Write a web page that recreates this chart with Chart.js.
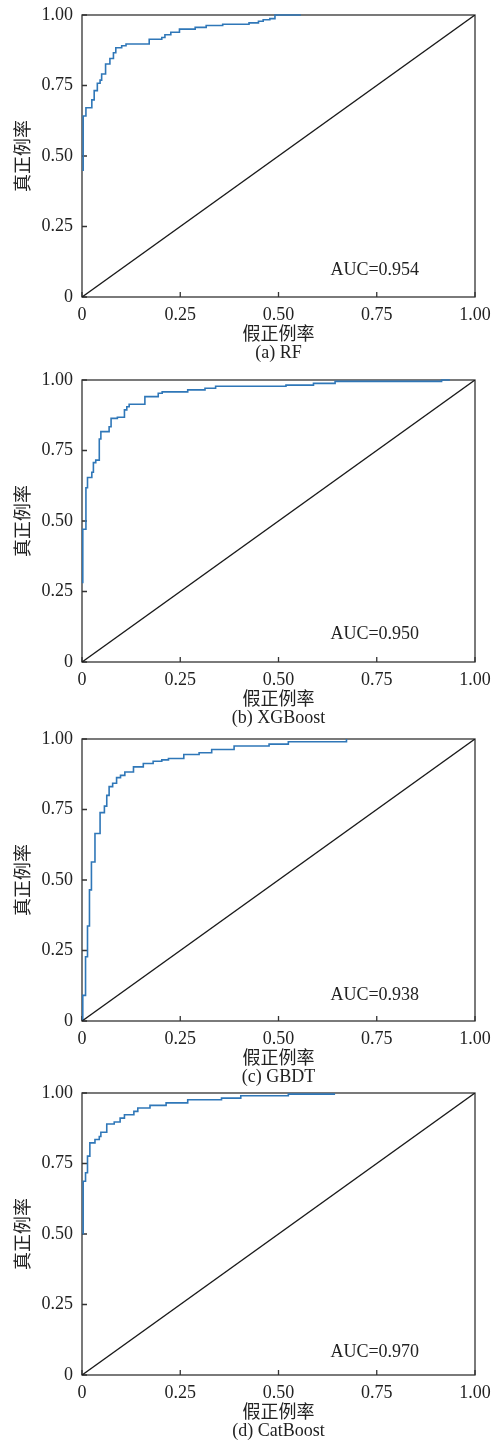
<!DOCTYPE html>
<html>
<head>
<meta charset="utf-8">
<script src="https://cdn.jsdelivr.net/npm/chart.js@4.4.1/dist/chart.umd.min.js"></script>
<style>
  body { margin: 0; background: #fff; }
  #page { position: relative; width: 500px; height: 1444px; }
  .panel { position: absolute; left: 0; width: 500px; height: 360px; }
</style>
</head>
<body>
<div id="page">
  <div class="panel" style="top: 7px"><canvas id="c0" width="500" height="360"></canvas></div>
  <div class="panel" style="top: 372px"><canvas id="c1" width="500" height="360"></canvas></div>
  <div class="panel" style="top: 731px"><canvas id="c2" width="500" height="360"></canvas></div>
  <div class="panel" style="top: 1085px"><canvas id="c3" width="500" height="360"></canvas></div>
</div>
<script>
const tickValues = [0, 0.25, 0.5, 0.75, 1];
const tickLabels = ["0", "0.25", "0.50", "0.75", "1.00"];
const diagonal = [0, 1];

const models = ["RF", "XGBoost", "GBDT", "CatBoost"];
const captions = ["(a) RF", "(b) XGBoost", "(c) GBDT", "(d) CatBoost"];
const aucValues = ["0.954", "0.950", "0.938", "0.970"];
const aucHeights = [0.096, 0.099, 0.091, 0.082];

// ROC points; each one is where the step rises
const rfFpr = [0.003, 0.003, 0.01, 0.025, 0.031, 0.039, 0.046, 0.05, 0.06, 0.071, 0.08, 0.086, 0.101, 0.112, 0.171, 0.203, 0.211, 0.226, 0.248, 0.288, 0.316, 0.358, 0.425, 0.449, 0.461, 0.478, 0.491, 0.557];
const rfTpr = [0.447, 0.642, 0.671, 0.699, 0.732, 0.758, 0.769, 0.791, 0.826, 0.846, 0.866, 0.884, 0.891, 0.897, 0.914, 0.92, 0.93, 0.939, 0.95, 0.956, 0.963, 0.967, 0.972, 0.978, 0.983, 0.987, 1.0, 1.0];

const xgbFpr = [0.002, 0.002, 0.01, 0.014, 0.025, 0.029, 0.035, 0.044, 0.048, 0.069, 0.074, 0.09, 0.108, 0.114, 0.12, 0.16, 0.194, 0.204, 0.269, 0.313, 0.34, 0.519, 0.589, 0.644, 0.915, 0.936];
const xgbTpr = [0.279, 0.471, 0.618, 0.654, 0.673, 0.707, 0.716, 0.791, 0.817, 0.834, 0.864, 0.868, 0.894, 0.905, 0.914, 0.941, 0.953, 0.958, 0.965, 0.971, 0.978, 0.982, 0.988, 0.995, 1.0, 1.0];

const gbdtFpr = [0.002, 0.002, 0.009, 0.014, 0.019, 0.024, 0.033, 0.046, 0.057, 0.063, 0.069, 0.078, 0.088, 0.098, 0.109, 0.131, 0.156, 0.181, 0.203, 0.22, 0.259, 0.298, 0.33, 0.387, 0.476, 0.525, 0.673];
const gbdtTpr = [0, 0.091, 0.228, 0.337, 0.465, 0.564, 0.665, 0.739, 0.762, 0.8, 0.831, 0.843, 0.863, 0.871, 0.883, 0.901, 0.913, 0.921, 0.926, 0.931, 0.945, 0.951, 0.963, 0.975, 0.982, 0.99, 1.0];

const catFpr = [0.003, 0.003, 0.009, 0.014, 0.02, 0.033, 0.044, 0.048, 0.063, 0.082, 0.097, 0.108, 0.132, 0.142, 0.173, 0.214, 0.269, 0.355, 0.404, 0.525, 0.644];
const catTpr = [0.498, 0.687, 0.717, 0.776, 0.823, 0.835, 0.846, 0.861, 0.89, 0.897, 0.911, 0.923, 0.935, 0.947, 0.956, 0.965, 0.976, 0.982, 0.99, 0.996, 0.996];

const curves = [[rfFpr, rfTpr], [xgbFpr, xgbTpr], [gbdtFpr, gbdtTpr], [catFpr, catTpr]];

const fontFamily = "'Liberation Serif', 'Noto Sans CJK SC', serif";
Chart.defaults.font.family = fontFamily;
Chart.defaults.font.size = 18;
Chart.defaults.color = "#222";

// box and inward ticks go under the curves, like the original
const frame = {
  id: "frame",
  beforeDatasetsDraw(chart) {
    const { ctx, chartArea: a, scales } = chart;
    ctx.save();
    ctx.strokeStyle = "#333";
    ctx.lineWidth = 1.3;
    ctx.strokeRect(a.left, a.top, a.width, a.height);
    ctx.beginPath();
    tickValues.forEach((v) => {
      const x = scales.x.getPixelForValue(v);
      ctx.moveTo(x, a.bottom);
      ctx.lineTo(x, a.bottom - 5);
      const y = scales.y.getPixelForValue(v);
      ctx.moveTo(a.left, y);
      ctx.lineTo(a.left + 5, y);
    });
    ctx.stroke();
    ctx.restore();
  },
  afterDatasetsDraw(chart, args, opts) {
    const { ctx, scales } = chart;
    ctx.save();
    ctx.fillStyle = "#222";
    ctx.font = `18px ${fontFamily}`;
    ctx.textAlign = "center";
    ctx.textBaseline = "middle";
    ctx.fillText(`AUC=${opts.auc}`, scales.x.getPixelForValue(0.745), scales.y.getPixelForValue(opts.height));
    ctx.restore();
  }
};

models.forEach((name, i) => drawPanel(i));

function drawPanel(i) {
  const [fpr, tpr] = curves[i];
  const roc = fpr.map((x, k) => ({ x, y: tpr[k] }));
  const diag = diagonal.map((v) => ({ x: v, y: v }));

  new Chart(document.getElementById(`c${i}`), {
    type: "scatter",
    data: {
      datasets: [
        {
          label: "chance",
          data: diag,
          showLine: true,
          borderColor: "#1a1a1a",
          borderWidth: 1.4,
          pointRadius: 0
        },
        {
          label: models[i],
          data: roc,
          showLine: true,
          stepped: true,
          clip: 4,
          borderColor: "#2f77b8",
          borderWidth: 1.6,
          pointRadius: 0
        }
      ]
    },
    options: {
      responsive: false,
      animation: false,
      events: [],
      layout: { padding: { top: 8, right: 25, left: 0, bottom: 0 } },
      plugins: {
        legend: { display: false },
        tooltip: { enabled: false },
        frame: { auc: aucValues[i], height: aucHeights[i] }
      },
      scales: {
        x: {
          type: "linear",
          min: 0,
          max: 1,
          afterBuildTicks: (s) => { s.ticks = tickValues.map((value) => ({ value })); },
          afterFit: (s) => {
            s.height = 70;
            s.paddingLeft = 0;
            s.paddingRight = 0;
          },
          grid: { display: false, drawTicks: false },
          border: { display: false },
          ticks: {
            padding: 7,
            maxRotation: 0,
            callback: (v) => tickLabels[tickValues.indexOf(v)]
          },
          title: {
            display: true,
            text: ["假正例率", captions[i]],
            font: { size: 18, lineHeight: 1 },
            padding: { top: 0, bottom: 5 }
          }
        },
        y: {
          type: "linear",
          min: 0,
          max: 1,
          afterBuildTicks: (s) => { s.ticks = tickValues.map((value) => ({ value })); },
          afterFit: (s) => {
            s.width = 82;
            s.paddingTop = 0;
            s.paddingBottom = 0;
          },
          grid: { display: false, drawTicks: false },
          border: { display: false },
          ticks: {
            padding: 9,
            callback: (v) => tickLabels[tickValues.indexOf(v)]
          },
          title: {
            display: true,
            text: "真正例率",
            font: { size: 18, lineHeight: 1 },
            padding: { top: 15, bottom: 0 }
          }
        }
      }
    },
    plugins: [frame]
  });
}
</script>
</body>
</html>
